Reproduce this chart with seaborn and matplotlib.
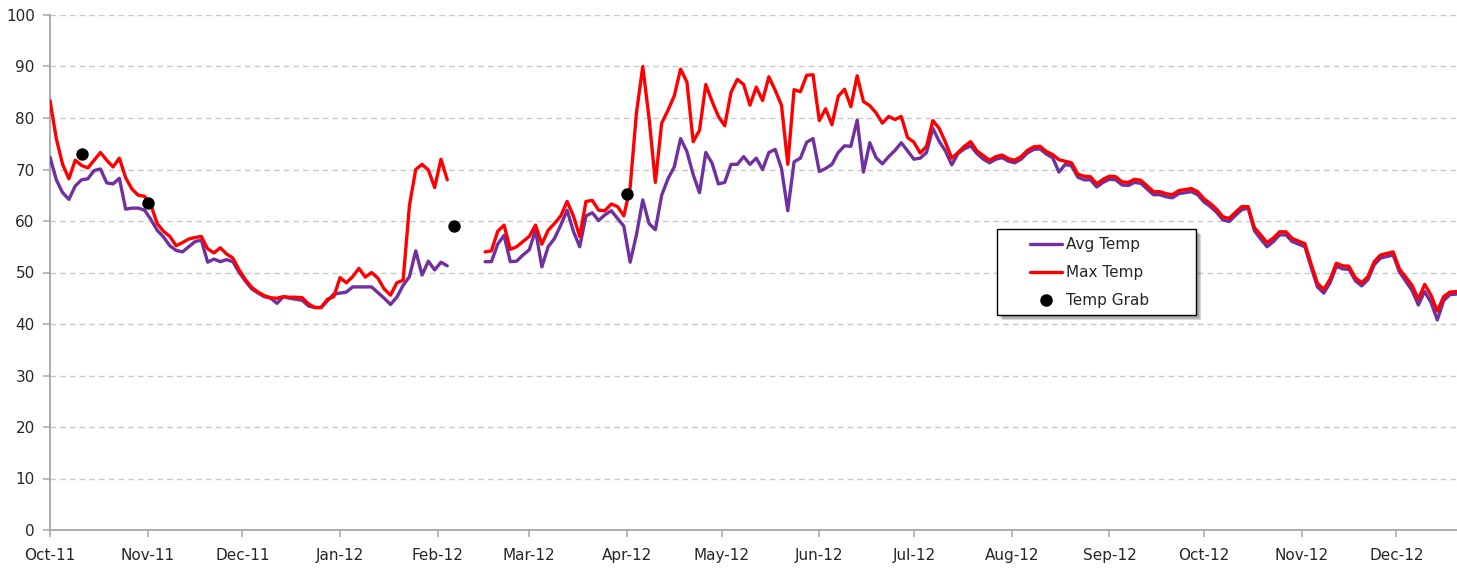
import numpy as np
import pandas as pd
import matplotlib
matplotlib.use("Agg")
import matplotlib.pyplot as plt
import matplotlib.dates as mdates
from matplotlib.lines import Line2D
from matplotlib.patches import Rectangle
import seaborn as sns

# Daily readings sampled every second day, starting 1 Oct 2011 (NaN = no record)
start_date = "2011-10-01"
step_days = 2

max_temp = [
    83.4, 76.0, 71.0, 68.2, 71.8, 70.8, 70.3, 71.8, 73.3, 71.8,
    70.5, 72.2, 68.4, 66.2, 65.0, 64.8, 63.1, 59.5, 58.0, 57.0,
    55.2, 55.8, 56.5, 56.8, 57.0, 54.6, 53.8, 54.8, 53.6, 52.8,
    50.5, 48.6, 47.1, 46.2, 45.5, 45.1, 45.0, 45.3, 45.2, 45.2,
    45.1, 43.9, 43.2, 43.2, 44.8, 45.3, 49.0, 48.0, 49.2, 50.8,
    49.1, 50.0, 48.9, 46.8, 45.6, 48.0, 48.5, 63.0, 70.0, 71.0,
    69.9, 66.5, 72.0, 68.0, np.nan, np.nan, np.nan, np.nan, np.nan, 54.0,
    54.2, 58.0, 59.2, 54.5, 55.0, 56.0, 57.0, 59.2, 55.5, 58.2,
    59.5, 61.0, 63.8, 61.0, 57.0, 63.8, 64.0, 62.1, 62.0, 63.3,
    62.8, 61.0, 66.5, 81.0, 90.0, 80.0, 67.5, 79.0, 81.5, 84.3,
    89.5, 87.0, 75.4, 77.6, 86.5, 83.2, 80.3, 78.5, 85.0, 87.5,
    86.5, 82.5, 86.0, 83.4, 88.0, 85.4, 82.5, 71.0, 85.5, 85.1,
    88.3, 88.4, 79.5, 81.8, 78.7, 84.2, 85.6, 82.2, 88.2, 83.2,
    82.4, 81.0, 79.0, 80.3, 79.7, 80.3, 76.2, 75.3, 73.2, 74.5,
    79.5, 78.0, 75.3, 72.2, 73.3, 74.5, 75.4, 73.6, 72.7, 71.8,
    72.5, 72.8, 72.1, 71.8, 72.5, 73.7, 74.4, 74.5, 73.5, 72.9,
    71.9, 71.6, 71.3, 69.1, 68.7, 68.6, 67.2, 68.1, 68.7, 68.6,
    67.6, 67.5, 68.1, 67.9, 66.8, 65.7, 65.7, 65.3, 65.1, 65.9,
    66.1, 66.3, 65.7, 64.3, 63.4, 62.3, 60.8, 60.5, 61.7, 62.8,
    62.8, 58.7, 57.3, 55.8, 56.7, 57.9, 57.9, 56.6, 56.1, 55.6,
    51.6, 47.9, 46.7, 48.7, 51.8, 51.3, 51.2, 49.0, 48.0, 49.2,
    52.1, 53.4, 53.7, 54.0, 50.7, 49.1, 47.5, 44.8, 47.7, 45.6,
    42.5, 45.3, 46.2, 46.3,
]

avg_temp = [
    72.4, 68.0, 65.5, 64.2, 66.8, 68.0, 68.2, 69.8, 70.1, 67.4,
    67.2, 68.3, 62.3, 62.5, 62.5, 62.1, 60.3, 58.2, 56.9, 55.2,
    54.3, 54.0, 55.0, 56.0, 56.3, 52.0, 52.6, 52.1, 52.5, 52.1,
    50.0, 48.3, 46.8, 46.0, 45.3, 45.0, 44.0, 45.3, 45.0, 44.8,
    44.6, 43.5, 43.2, 43.2, 44.5, 45.8, 46.0, 46.2, 47.2, 47.2,
    47.2, 47.2, 46.1, 45.0, 43.8, 45.2, 47.5, 49.2, 54.2, 49.5,
    52.2, 50.5, 52.0, 51.3, np.nan, np.nan, np.nan, np.nan, np.nan, 52.1,
    52.1, 55.5, 57.2, 52.1, 52.2, 53.4, 54.4, 58.2, 51.1, 55.0,
    56.6, 59.2, 62.1, 58.0, 55.0, 61.0, 61.6, 60.1, 61.2, 62.0,
    60.5, 59.0, 52.0, 57.3, 64.1, 59.5, 58.3, 65.0, 68.2, 70.5,
    76.0, 73.5, 69.0, 65.5, 73.3, 71.2, 67.2, 67.5, 71.0, 71.0,
    72.5, 71.0, 72.2, 70.0, 73.3, 73.9, 70.2, 62.0, 71.5, 72.2,
    75.3, 76.0, 69.6, 70.2, 71.0, 73.3, 74.6, 74.5, 79.6, 69.5,
    75.2, 72.3, 71.1, 72.5, 73.7, 75.2, 73.6, 72.0, 72.2, 73.3,
    78.0, 75.5, 73.6, 70.9, 73.1, 74.0, 74.6, 73.1, 72.0, 71.3,
    72.0, 72.3, 71.6, 71.3, 72.0, 73.2, 73.9, 74.0, 73.0, 72.3,
    69.5, 71.0, 70.7, 68.5, 68.0, 68.0, 66.6, 67.5, 68.1, 68.0,
    67.0, 66.9, 67.5, 67.3, 66.2, 65.1, 65.1, 64.7, 64.5, 65.3,
    65.5, 65.7, 65.1, 63.7, 62.8, 61.7, 60.2, 59.9, 61.1, 62.2,
    62.5, 58.1, 56.5, 55.0, 56.0, 57.3, 57.3, 56.0, 55.5, 55.0,
    51.0, 47.2, 46.0, 48.0, 51.2, 50.7, 50.6, 48.4, 47.4, 48.6,
    51.5, 52.8, 53.1, 53.4, 50.1, 48.3, 46.5, 43.7, 46.3, 44.2,
    40.8, 44.5, 45.7, 45.8,
]

grab_dates = ["2011-10-11", "2011-11-01", "2012-02-06", "2012-04-01"]
grab_temp = [73.0, 63.4, 59.0, 65.2]

series_names = ["Avg Temp", "Max Temp"]
grab_name = "Temp Grab"
y_ticks = list(range(0, 101, 10))

# ---------------------------------------------------------------- data frame
dates = pd.date_range(start_date, periods=len(max_temp), freq=f"{step_days}D")
frames = []
for name, values in zip(series_names, [avg_temp, max_temp]):
    s = pd.Series(values, index=dates, dtype=float)
    seg = s.isna().cumsum()
    d = pd.DataFrame({"date": dates, "temp": s.values, "series": name,
                      "segment": seg.values})
    frames.append(d.dropna())
temps = pd.concat(frames, ignore_index=True)
grabs = pd.DataFrame({"date": pd.to_datetime(grab_dates), "temp": grab_temp})

colors = {"Avg Temp": "#7030A0", "Max Temp": "#FF0000"}

# ---------------------------------------------------------------- figure
sns.set_theme(style="white")
plt.rcParams["font.family"] = ["DejaVu Sans"]

W, H = 1457, 569
fig = plt.figure(figsize=(W / 100, H / 100), dpi=100)
ax = fig.add_axes([50 / W, 39 / H, 1407 / W, 515 / H])

sns.lineplot(data=temps, x="date", y="temp", hue="series", units="segment",
             estimator=None, palette=colors, linewidth=2.4, legend=False,
             ax=ax, zorder=3)
sns.scatterplot(data=grabs, x="date", y="temp", color="black", s=80,
                edgecolor="black", linewidth=0, ax=ax, zorder=4)

# axes
ax.set_ylim(0, 100)
ax.set_yticks(y_ticks)
ax.set_xlim(pd.Timestamp(start_date), dates[-1] + pd.Timedelta(hours=6))
ax.xaxis.set_major_locator(mdates.MonthLocator())
ax.xaxis.set_major_formatter(mdates.DateFormatter("%b-%y"))
ax.set_xlabel("")
ax.set_ylabel("")

ax.yaxis.grid(True, linestyle=(0, (4, 3)), color="#C8C8C8", linewidth=1.0)
ax.xaxis.grid(False)
ax.set_axisbelow(True)

for side in ["top", "right"]:
    ax.spines[side].set_visible(False)
for side in ["left", "bottom"]:
    ax.spines[side].set_color("#A6A6A6")
    ax.spines[side].set_linewidth(1.3)

ax.tick_params(axis="both", which="major", labelsize=11, labelcolor="#262626",
               color="#A6A6A6", length=5, width=1.1, direction="out")
ax.tick_params(axis="x", pad=8)
ax.tick_params(axis="y", pad=6)
ax.xaxis.set_ticks_position("bottom")
ax.yaxis.set_ticks_position("left")

# legend box with a soft drop shadow
bx0, bx1 = (997 - 50) / 1407, (1196 - 50) / 1407
by0, by1 = (530 - 315) / 515, (530 - 229) / 515
dx, dy = 4 / 1407, 4 / 515
for k, a in enumerate([0.10, 0.12, 0.16]):
    off = (k + 2) / 1407, (k + 2) / 515
    ax.add_patch(Rectangle((bx0 + off[0] + dx * 0.3, by0 - off[1] - dy * 0.3),
                           bx1 - bx0, by1 - by0, transform=ax.transAxes,
                           facecolor="#000000", edgecolor="none", alpha=a,
                           zorder=5, clip_on=False))
ax.add_patch(Rectangle((bx0, by0), bx1 - bx0, by1 - by0, transform=ax.transAxes,
                       facecolor="white", edgecolor="black", linewidth=1.0,
                       zorder=6, clip_on=False))

handles = [
    Line2D([], [], color=colors["Avg Temp"], lw=2.4),
    Line2D([], [], color=colors["Max Temp"], lw=2.4),
    Line2D([], [], color="black", lw=0, marker="o", markersize=8),
]
leg = ax.legend(handles, series_names + [grab_name], loc="upper left",
                bbox_to_anchor=((1030 - 50) / 1407, (530 - 237) / 515),
                frameon=False, fontsize=11, handlelength=2.1,
                labelspacing=0.85, borderpad=0, handletextpad=0.28,
                borderaxespad=0)
leg.set_zorder(7)
for t in leg.get_texts():
    t.set_color("#262626")

fig.savefig("out.png", dpi=100)
